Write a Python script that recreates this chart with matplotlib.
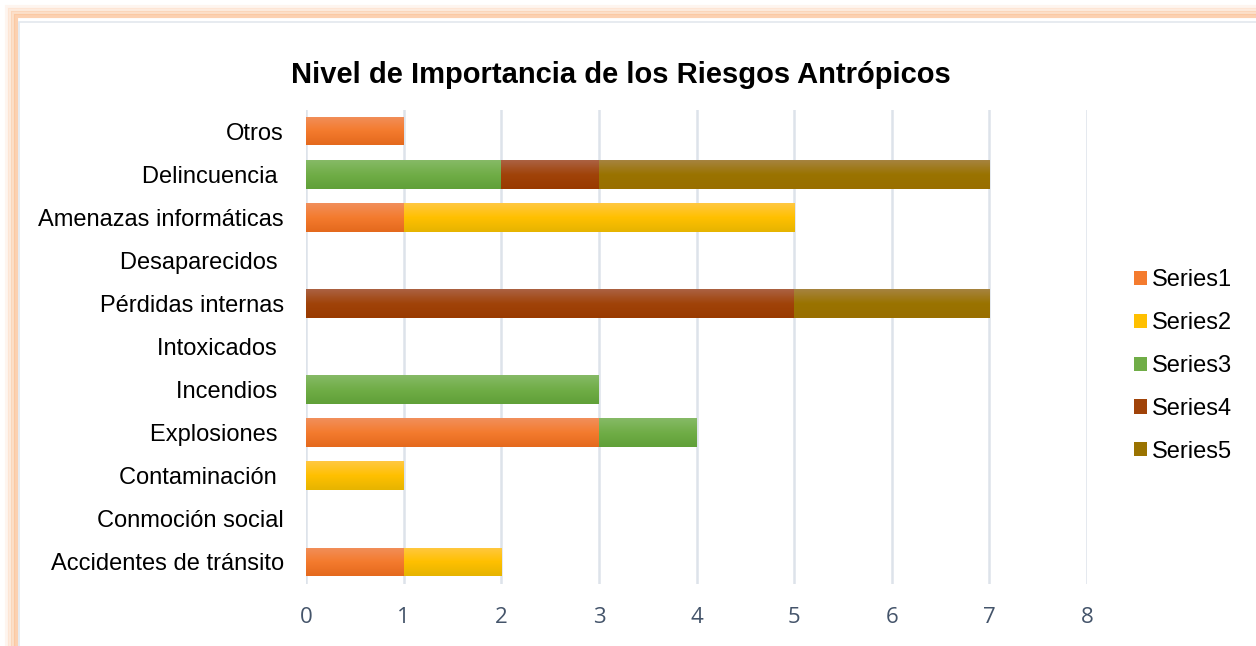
import numpy as np
import matplotlib
matplotlib.use("Agg")
import matplotlib.pyplot as plt
from matplotlib.patches import Rectangle
from matplotlib.colors import LinearSegmentedColormap

# bottom to top, as matplotlib draws barh
categories = ["Accidentes de tránsito", "Conmoción social", "Contaminación ", "Explosiones ",
              "Incendios ", "Intoxicados ", "Pérdidas internas", "Desaparecidos ",
              "Amenazas informáticas", "Delincuencia ", "Otros"]
series1 = [1, 0, 0, 3, 0, 0, 0, 0, 1, 0, 1]
series2 = [1, 0, 1, 0, 0, 0, 0, 0, 4, 0, 0]
series3 = [0, 0, 0, 1, 3, 0, 0, 0, 0, 2, 0]
series4 = [0, 0, 0, 0, 0, 0, 5, 0, 0, 1, 0]
series5 = [0, 0, 0, 0, 0, 0, 2, 0, 0, 4, 0]
series_names = ["Series1", "Series2", "Series3", "Series4", "Series5"]
x_ticks = [0, 1, 2, 3, 4, 5, 6, 7, 8]

# (top, middle, bottom) gradient colours per series
grads = [("#F18F5B", "#F47B2E", "#E4691D"),
         ("#FFC842", "#FFC000", "#E6B400"),
         ("#86BA66", "#70AD47", "#60A038"),
         ("#AB6142", "#A04309", "#993A00"),
         ("#A6833F", "#9A7300", "#996F00")]

plt.rcParams["font.family"] = ["Liberation Sans", "DejaVu Sans"]

fig = plt.figure(figsize=(12.56, 6.46), dpi=100)

# orange glow frame
for i, a in enumerate([0.15, 0.3, 0.5, 0.75]):
    off = 7 + i * 3
    fig.patches.append(Rectangle((off / 1256, -0.05), 1.2, 1 - off / 646 + 0.05,
                                 transform=fig.transFigure, facecolor="none",
                                 edgecolor="#FBC297", alpha=a, lw=3, zorder=-2))
fig.patches.append(Rectangle((19 / 1256, -0.05), 1.2, 1 - 22 / 646 + 0.05,
                             transform=fig.transFigure, facecolor="white",
                             edgecolor="#E3E7EE", lw=1.2, zorder=-1))

ax = fig.add_axes([306 / 1256, 1 - 583.5 / 646, (1087 - 306) / 1256, (583.5 - 109.5) / 646])
ax.set_facecolor("none")

y = np.arange(len(categories))
left = np.zeros(len(categories))
for k, vals in enumerate([series1, series2, series3, series4, series5]):
    vals = np.array(vals, dtype=float)
    bars = ax.barh(y, vals, left=left, height=0.67, color=grads[k][1],
                   label=series_names[k], zorder=3)
    cmap = LinearSegmentedColormap.from_list("g%d" % k, [grads[k][2], grads[k][1], grads[k][0]])
    grad = np.linspace(0, 1, 64).reshape(-1, 1)
    for b, v in zip(bars, vals):
        if v <= 0:
            continue
        x0, y0 = b.get_x(), b.get_y()
        im = ax.imshow(grad, extent=(x0, x0 + b.get_width(), y0, y0 + b.get_height()),
                       origin="lower", cmap=cmap, aspect="auto", zorder=4,
                       interpolation="bilinear")
        im.set_clip_path(b)
    left += vals

ax.set_xlim(0, 8)
ax.set_ylim(-0.5, len(categories) - 0.5)
ax.set_xticks(x_ticks)
ax.set_xticklabels([str(t) for t in x_ticks], fontsize=16, color="#44546A",
                   fontfamily=["Open Sans", "DejaVu Sans"])
ax.set_yticks(y)
ax.set_yticklabels(categories, fontsize=17, color="black")
ax.tick_params(axis="x", length=0, pad=17)
ax.tick_params(axis="y", length=0, pad=16)
ax.grid(axis="x", color="#DDE3EA", lw=1.8, zorder=1)
for s in ax.spines.values():
    s.set_visible(False)

fig.text(621 / 1256, 1 - 75 / 646, "Nivel de Importancia de los Riesgos Antrópicos",
         ha="center", va="center", fontsize=21, fontweight="bold")

leg = fig.legend(loc="center left", bbox_to_anchor=(1113 / 1256, 1 - 366 / 646),
                 frameon=False, fontsize=17, handlelength=0.55, handleheight=0.55,
                 handletextpad=0.2, labelspacing=0.88)

fig.savefig("out.png", dpi=100)
